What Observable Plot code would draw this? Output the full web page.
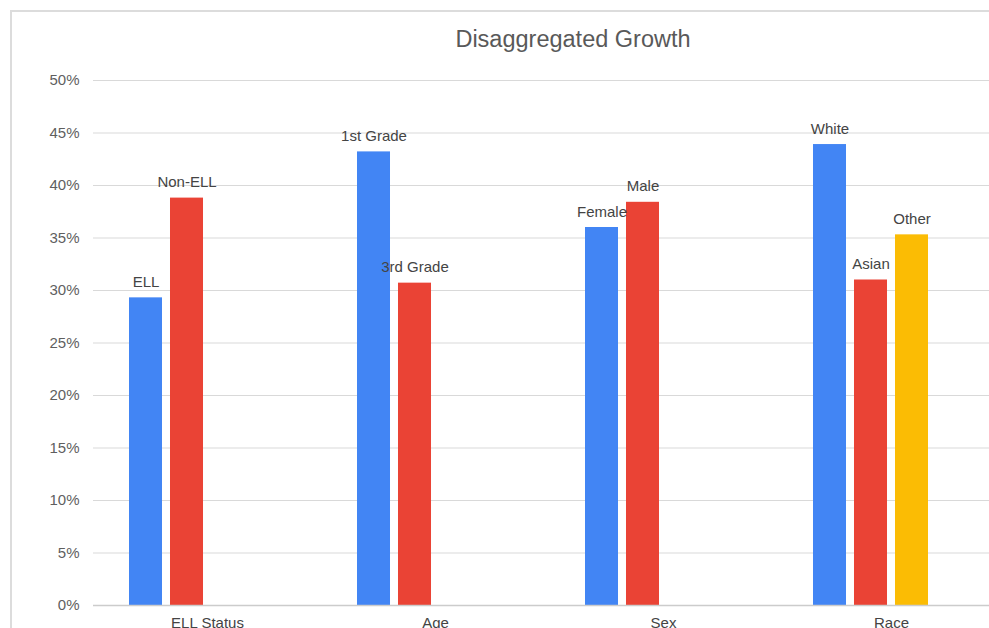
<!DOCTYPE html>
<html>
<head>
<meta charset="utf-8">
<script src="https://cdn.jsdelivr.net/npm/d3@7"></script>
<script src="https://cdn.jsdelivr.net/npm/@observablehq/plot@0.6"></script>
<style>
  html, body { margin: 0; padding: 0; background: #fff; }
  #wrap {
    position: relative; width: 989px; height: 628px; overflow: hidden; background: #fff;
    font-family: "Liberation Sans", Arial, sans-serif;
  }
  #border {
    position: absolute; left: 10px; top: 10px; width: 1200px; height: 800px;
    border-left: 2px solid #dcdcdc; border-top: 2px solid #dcdcdc; box-sizing: border-box;
  }
  #title {
    position: absolute; left: 0; width: 1146px; top: 28px; text-align: center;
    font-size: 23.5px; color: #595959; line-height: 1;
  }
  #chart { position: absolute; left: 0; top: 0; width: 1010px; }
  #chart svg { max-width: none !important; }
</style>
</head>
<body>
<div id="wrap">
  <div id="border"></div>
  <div id="chart"></div>
  <div id="title">Disaggregated Growth</div>
</div>
<script>
// Groups along the bottom, and one bar per subgroup within each group
const groups = ["ELL Status", "Age", "Sex", "Race"];
const barGroup = ["ELL Status", "ELL Status", "Age", "Age", "Sex", "Sex", "Race", "Race", "Race"];
const barLabel = ["ELL", "Non-ELL", "1st Grade", "3rd Grade", "Female", "Male", "White", "Asian", "Other"];
const barSeries = [1, 2, 1, 2, 1, 2, 1, 2, 3];
const growth = [29.3, 38.8, 43.2, 30.7, 36.0, 38.4, 43.9, 31.0, 35.3]; // percent
const seriesSlots = [1, 2, 3, 4];
const seriesColors = ["#4285F4", "#EA4335", "#FBBC04"];
const yTicks = [0, 5, 10, 15, 20, 25, 30, 35, 40, 45, 50];

const rows = growth.map((v, i) => ({
  group: barGroup[i], label: barLabel[i], series: barSeries[i], value: v
}));

const chart = Plot.plot({
  width: 1010,
  height: 640,
  marginLeft: 93,
  marginRight: 5,
  marginTop: 80,
  marginBottom: 35,
  style: {
    fontFamily: '"Liberation Sans", Arial, sans-serif',
    fontSize: "15px",
    color: "#444",
    background: "transparent",
    overflow: "visible",
    maxWidth: "none"
  },
  fx: {domain: groups, padding: 0, label: null, axis: "bottom", tickSize: 0, tickPadding: 12},
  x: {domain: seriesSlots, round: false, paddingInner: 0.195, paddingOuter: 0.878, axis: null},
  y: {domain: [0, 50], ticks: yTicks, tickFormat: d => d + "%", label: null, tickSize: 0, tickPadding: 14},
  color: {domain: [1, 2, 3], range: seriesColors},
  marks: [
    Plot.ruleY(yTicks, {stroke: "#d9d9d9", strokeWidth: 1.2}),
    Plot.barY(rows, {fx: "group", x: "series", y: "value", fill: "series"}),
    Plot.ruleY([0], {stroke: "#cccccc", strokeWidth: 1.5}),
    Plot.text(rows, {fx: "group", x: "series", y: "value", text: "label", lineAnchor: "bottom", dy: -11, fill: "#444"})
  ]
});

d3.select(chart).selectAll("[aria-label='y-axis tick label'] text, [aria-label='y-axis tick label']").attr("fill", "#5f5f5f");
document.getElementById("chart").appendChild(chart);
</script>
</body>
</html>
